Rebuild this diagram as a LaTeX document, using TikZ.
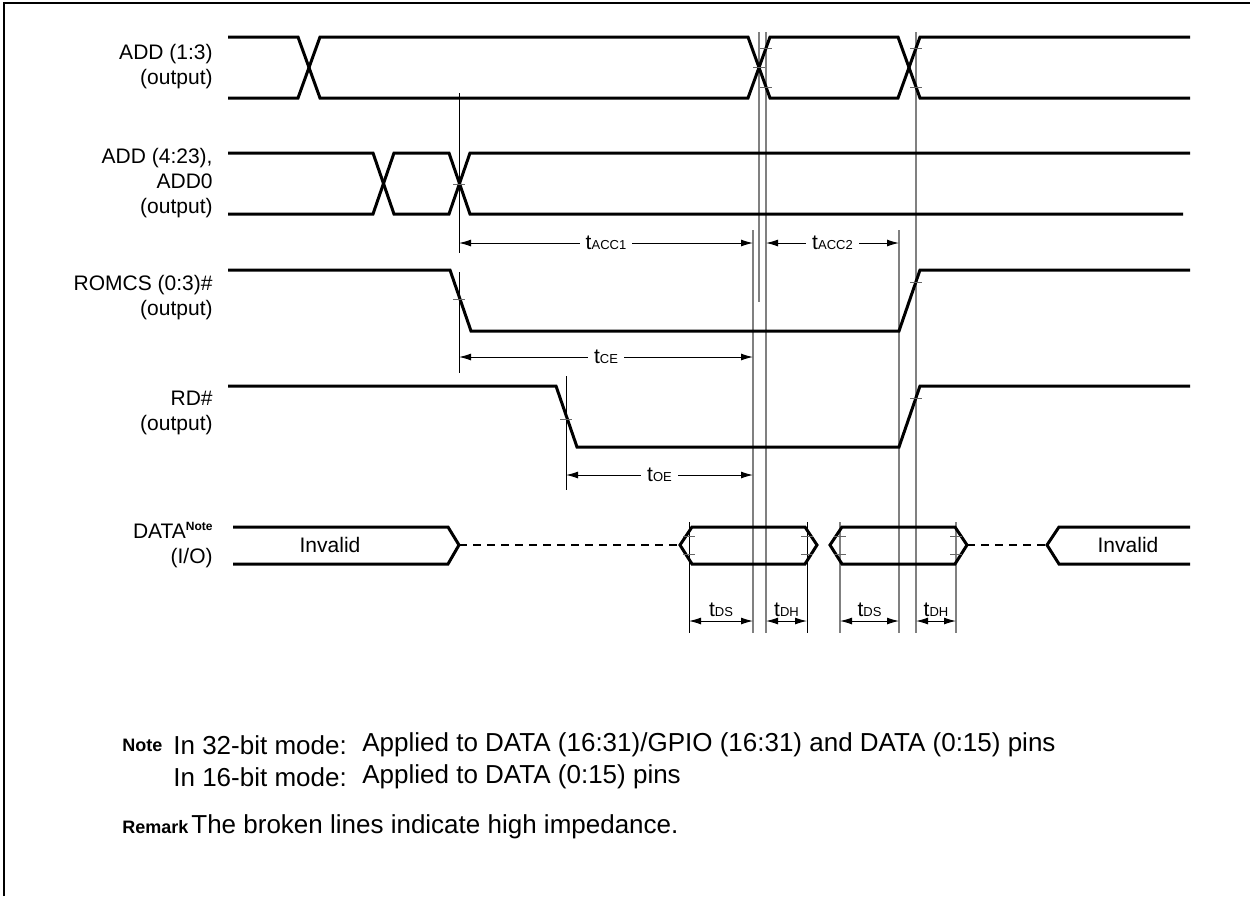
\documentclass[tikz,border=0pt]{standalone}
\usepackage{fontspec}
\setmainfont{Liberation Sans}
\usetikzlibrary{arrows.meta}

\newcommand{\tsub}[2]{#1{\fontsize{6.5}{7}\selectfont #2}}
\newcommand{\notemark}{\raisebox{0.7ex}{\fontsize{6}{6}\selectfont\bfseries Note}}

\tikzset{
  wave/.style={line width=1.5pt, line join=miter},
  hiz/.style={line width=1pt, dash pattern=on 4pt off 3pt},
  refgray/.style={line width=0.7pt, black!50},
  refblack/.style={line width=0.5pt, black},
  dim/.style={line width=0.5pt, {Latex[length=6pt,width=3.5pt]}-{Latex[length=6pt,width=3.5pt]}},
  tickmark/.style={line width=0.5pt, black!60},
  siglabel/.style={anchor=east, align=right, inner sep=0pt},
  dimlabel/.style={fill=white, inner xsep=3pt, inner ysep=1pt},
  notehead/.style={anchor=west, inner sep=0pt, font=\fontsize{9}{10}\selectfont\bfseries},
  notetext/.style={anchor=west, inner sep=0pt, font=\fontsize{13}{15}\selectfont},
}

\begin{document}
\begin{tikzpicture}[x=0.5pt,y=-0.5pt]
\fontsize{10.5}{12.5}\selectfont
\useasboundingbox (0,0) rectangle (1250,896);

% frame
\draw[line width=1pt] (4,896) -- (4,3) -- (1250,3);

% signal names
\node[siglabel] (lblA) at (213,67) {ADD (1:3)\\(output)};
\node[siglabel] (lblB) at (213,183) {ADD (4:23),\\ADD0\\(output)};
\node[siglabel] (lblC) at (213,298) {ROMCS (0:3)\#\\(output)};
\node[siglabel] (lblD) at (213,413) {RD\#\\(output)};
\node[siglabel] (lblE) at (213,545) {DATA\notemark\\(I/O)};

% reference lines
\draw[refblack] (459,93) -- (459,253);
\draw[refblack] (459,272) -- (459,373);
\draw[refblack] (566,376) -- (566,490);
\draw[refgray] (759,32) -- (759,302);
\draw[refgray] (766,32) -- (766,633);
\draw[refgray] (753,230) -- (753,633);
\draw[refgray] (899,230) -- (899,633);
\draw[refgray] (916,32) -- (916,633);
\draw[refblack] (689,522) -- (689,633);
\draw[refblack] (807,522) -- (807,633);
\draw[refgray] (840,522) -- (840,633);
\draw[refgray] (956,522) -- (956,633);

% ADD (1:3)
\draw[wave] (228,37) -- (298,37) -- (320,98) -- (748,98) -- (770,37) -- (898,37) -- (920,98) -- (1190,98);
\draw[wave] (228,98) -- (298,98) -- (320,37) -- (748,37) -- (770,98) -- (898,98) -- (920,37) -- (1190,37);

% ADD (4:23), ADD0
\draw[wave] (228,153) -- (373,153) -- (394,214) -- (449,214) -- (470,153) -- (1190,153);
\draw[wave] (228,214) -- (373,214) -- (394,153) -- (449,153) -- (470,214) -- (1183,214);

% ROMCS (0:3)#
\draw[wave] (228,270) -- (450,270) -- (471,331) -- (899,331) -- (920,270) -- (1190,270);

% RD#
\draw[wave] (228,386) -- (556,386) -- (577,447) -- (899,447) -- (920,386) -- (1190,386);

% DATA
\draw[wave] (233,527) -- (448,527) -- (459,545) -- (448,564) -- (233,564);
\draw[hiz] (459,545) -- (680,545);
\draw[wave] (680,545) -- (692,527) -- (805,527) -- (817,545) -- (805,564) -- (692,564) -- cycle;
\draw[wave] (830,545) -- (842,527) -- (955,527) -- (967,545) -- (955,564) -- (842,564) -- cycle;
\draw[hiz] (967,545) -- (1047,545);
\draw[wave] (1190,527) -- (1059,527) -- (1047,545) -- (1059,564) -- (1190,564);
\node (invL) at (330,545) {Invalid};
\node (invR) at (1128,545) {Invalid};

% ticks
\foreach \x/\y in {766/48, 766/87, 759/67, 916/48, 916/87, 459/184, 459/299, 916/282,
                   566/419, 916/398, 689/536, 689/554, 807/536, 807/554,
                   840/536, 840/554, 956/536, 956/554}
  \draw[tickmark] (\x-6,\y) -- (\x+6,\y);

% timing parameters
\draw[dim] (459,243) -- node[dimlabel] (tacc1) {\tsub{t}{ACC1}} (753,243);
\draw[dim] (766,243) -- node[dimlabel] (tacc2) {\tsub{t}{ACC2}} (899,243);
\draw[dim] (459,357) -- node[dimlabel] (tce) {\tsub{t}{CE}} (753,357);
\draw[dim] (566,475) -- node[dimlabel] (toe) {\tsub{t}{OE}} (753,475);
\draw[dim] (689,621) -- node[above=2pt, inner sep=0pt] (tds1) {\tsub{t}{DS}} (753,621);
\draw[dim] (766,621) -- node[above=2pt, inner sep=0pt] (tdh1) {\tsub{t}{DH}} (807,621);
\draw[dim] (840,621) -- node[above=2pt, inner sep=0pt] (tds2) {\tsub{t}{DS}} (899,621);
\draw[dim] (916,621) -- node[above=2pt, inner sep=0pt] (tdh2) {\tsub{t}{DH}} (956,621);

% notes
\node[notehead] (notehd) at (122,745) {Note};
\node[notetext] (mode32) at (173,745) {In 32-bit mode:};
\node[notetext] (text32) at (362,745) {Applied to DATA (16:31)/GPIO (16:31) and DATA (0:15) pins};
\node[notetext] (mode16) at (173,777) {In 16-bit mode:};
\node[notetext] (text16) at (362,777) {Applied to DATA (0:15) pins};
\node[notehead] (remhd) at (122,827) {Remark};
\node[notetext] (remtxt) at (191,827) {The broken lines indicate high impedance.};
\end{tikzpicture}
\end{document}
